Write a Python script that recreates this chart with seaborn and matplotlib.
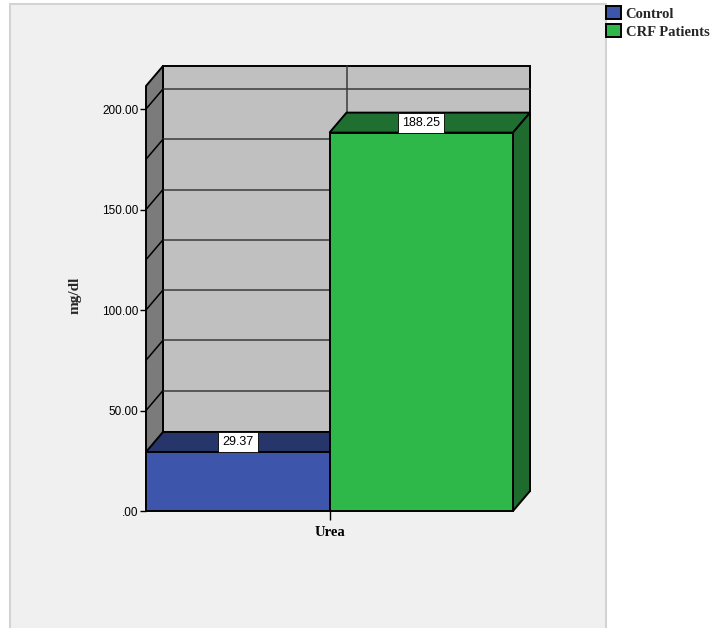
import matplotlib
matplotlib.use("Agg")
import matplotlib.pyplot as plt
import seaborn as sns
import pandas as pd
from matplotlib.patches import Polygon, Rectangle, Patch

# ---- data ----
measures = ["Urea", "Urea"]
groups = ["Control", "CRF Patients"]
values = [29.37, 188.25]
y_ticks = [0, 50, 100, 150, 200]
y_tick_labels = [".00", "50.00", "100.00", "150.00", "200.00"]
grid_values = [25, 50, 75, 100, 125, 150, 175, 200]

# ---- style ----
front_colors = ["#3d56ab", "#2fb84a"]
top_colors = ["#26366a", "#1f7030"]
side_colors = ["#1f2f5c", "#1e6b2d"]
wall_color = "#c0c0c0"
side_wall_color = "#7b7b7b"
grid_color = "#3a3a3a"

df = pd.DataFrame({"measure": measures, "group": groups, "value": values})

sns.set_theme(style="white")
plt.rcParams["font.family"] = ["Liberation Sans", "DejaVu Sans"]
serif_bold = {"family": ["Liberation Serif", "DejaVu Serif"], "weight": "bold"}

W, H = 717, 628
fig = plt.figure(figsize=(W / 100, H / 100), dpi=100)
fig.patch.set_facecolor("white")
frame = Rectangle((10 / W, -0.02), (606 - 10) / W, 1 - 4 / H + 0.02,
                  transform=fig.transFigure, facecolor="#f0f0f0",
                  edgecolor="#d3d3d3", lw=1.5, zorder=-10)
fig.patches.append(frame)

ax = fig.add_axes([146 / W, (H - 511) / H, 384 / W, 445 / H])
ax.set_zorder(5)
ax.set_facecolor("none")

sns.barplot(data=df, x="measure", y="value", hue="group",
            palette=front_colors, saturation=1, width=1.0, edgecolor="black",
            linewidth=1.4, legend=False, errorbar=None, ax=ax)

DX = 17 / 367.0
DY = 20 / 2.01
YTOP = 221.4
XL, XR = -0.5, 0.5

ax.set_xlim(XL, XR + DX)
ax.set_ylim(0, YTOP)

# back wall and side wall
ax.add_patch(Rectangle((XL + DX, DY), XR - XL, YTOP - DY, facecolor=wall_color,
                       edgecolor="black", lw=1.4, zorder=0.5, clip_on=False))
ax.add_patch(Polygon([(XL, 0), (XL + DX, DY), (XL + DX, YTOP), (XL, YTOP - DY)],
                     closed=True, facecolor=side_wall_color, edgecolor="black",
                     lw=1.4, zorder=0.55, clip_on=False))
for v in grid_values:
    ax.plot([XL + DX, XR + DX], [v + DY, v + DY], color=grid_color, lw=1.1,
            zorder=0.6, clip_on=False)
    ax.plot([XL, XL + DX], [v, v + DY], color="black", lw=1.1, zorder=0.6,
            clip_on=False)
ax.plot([0 + DX, 0 + DX], [DY, YTOP], color=grid_color, lw=1.1, zorder=0.6,
        clip_on=False)

# 3D faces of bars
for i, cont in enumerate(ax.containers):
    bar = cont[0]
    x0, w, h = bar.get_x(), bar.get_width(), bar.get_height()
    bar.set_zorder(2 + 2 * i)
    bar.set_clip_on(False)
    ax.add_patch(Polygon([(x0, h), (x0 + w, h), (x0 + w + DX, h + DY), (x0 + DX, h + DY)],
                         closed=True, facecolor=top_colors[i], edgecolor="black",
                         lw=1.4, zorder=1.5 + 2 * i, clip_on=False))
    ax.add_patch(Polygon([(x0 + w, 0), (x0 + w + DX, DY), (x0 + w + DX, h + DY), (x0 + w, h)],
                         closed=True, facecolor=side_colors[i], edgecolor="black",
                         lw=1.4, zorder=1.5 + 2 * i, clip_on=False))
    ax.text(x0 + w / 2, h + DY / 2, f"{h:.2f}", ha="center", va="center",
            fontsize=9, color="black", zorder=10,
            bbox=dict(boxstyle="square,pad=0.33", facecolor="white",
                      edgecolor="black", lw=0.6))

for s in ax.spines.values():
    s.set_visible(False)

ax.set_yticks(y_ticks, y_tick_labels)
ax.tick_params(axis="y", left=True, length=4.5, width=1.0, color="black",
               pad=1, labelsize=8.5, labelcolor="black")
ax.tick_params(axis="x", bottom=True, length=6.5, width=1.0, color="black",
               pad=4, labelcolor="black")
for lab in ax.get_xticklabels():
    lab.set_fontfamily(serif_bold["family"])
    lab.set_fontweight("bold")
    lab.set_fontsize(10.5)
ax.set_xlabel("")
ax.set_ylabel("")

fig.text(75 / W, 1 - 295 / H, "mg/dl", rotation=90, ha="center", va="center",
         fontsize=11, fontfamily=serif_bold["family"], fontweight="bold")

handles = [Patch(facecolor=c, edgecolor="black", lw=1.4) for c in front_colors]
fig.legend(handles=handles, labels=groups, loc="upper left",
           bbox_to_anchor=(606 / W, 1 - 6 / H), frameon=False,
           prop={"family": serif_bold["family"], "weight": "bold", "size": 10.5},
           handlelength=1.0, handleheight=1.0, handletextpad=0.35,
           labelspacing=0.25, borderpad=0, borderaxespad=0)

fig.savefig("out.png", dpi=100, facecolor="white")
